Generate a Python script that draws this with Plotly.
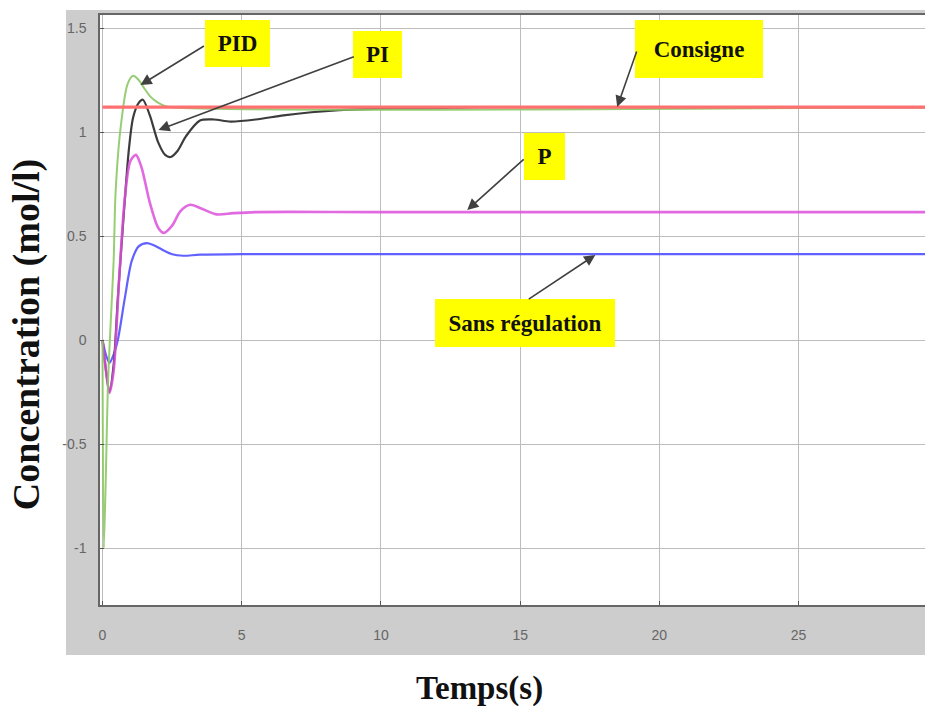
import plotly.graph_objects as go

# ---- data (time in s, concentration in mol/l) ----
t_consigne = [0, 30]
c_consigne = [1.12, 1.12]

t_sans = [0, 0.12, 0.25, 0.4, 0.55, 0.8, 1.05, 1.3, 1.6, 1.9, 2.2, 2.5, 2.9, 3.5, 5, 10, 30]
c_sans = [0, -0.07, -0.11, -0.07, 0.0, 0.2, 0.38, 0.45, 0.466, 0.452, 0.43, 0.412, 0.405, 0.41, 0.413, 0.413, 0.413]

t_p = [0, 0.1, 0.25, 0.4, 0.6, 0.8, 1.0, 1.2, 1.4, 1.7, 2.0, 2.2, 2.5, 2.8, 3.15, 3.5, 4.1, 4.7, 5.5, 10, 30]
c_p = [0, -0.12, -0.255, -0.15, 0.3, 0.68, 0.86, 0.89, 0.83, 0.66, 0.54, 0.515, 0.55, 0.62, 0.65, 0.635, 0.604, 0.61, 0.615, 0.615, 0.615]

t_pi = [0, 0.1, 0.25, 0.4, 0.55, 0.75, 0.95, 1.1, 1.3, 1.45, 1.7, 2.0, 2.25, 2.45, 2.7, 3.0, 3.5, 4.0, 4.6, 5.5, 6.5, 7.5, 8.5, 9.5, 10.5, 12, 13.5, 30]
c_pi = [0, -0.12, -0.25, -0.12, 0.2, 0.58, 0.92, 1.07, 1.14, 1.155, 1.08, 0.95, 0.89, 0.88, 0.91, 0.98, 1.055, 1.06, 1.05, 1.06, 1.08, 1.095, 1.105, 1.11, 1.113, 1.115, 1.12, 1.12]

t_pid = [0, 0.05, 0.2, 0.3, 0.4, 0.47, 0.65, 0.9, 1.1, 1.3, 1.5, 1.72, 1.95, 2.15, 2.4, 30]
c_pid = [0, -1.0, -0.2, 0.1, 0.38, 0.71, 1.02, 1.23, 1.27, 1.25, 1.21, 1.17, 1.145, 1.13, 1.12, 1.12]

x_ticks = [0, 5, 10, 15, 20, 25]
y_ticks = [-1, -0.5, 0, 0.5, 1, 1.5]
x_title = "Temps(s)"
y_title = "Concentration (mol/l)"

labels = ["PID", "PI", "Consigne", "P", "Sans régulation"]

fig = go.Figure()

series = [
    (t_sans, c_sans, "rgba(80,80,255,0.9)", 2.2),
    (t_pi, c_pi, "rgba(50,50,50,0.95)", 2.2),
    (t_p, c_p, "rgba(220,80,220,0.85)", 2.6),
    (t_pid, c_pid, "rgba(140,200,100,0.9)", 2.0),
    (t_consigne, c_consigne, "#ff7070", 3.2),
]
for t, c, col, w in series:
    fig.add_trace(go.Scatter(x=t, y=c, mode="lines",
                             line=dict(color=col, width=w, shape="spline", smoothing=0.8),
                             showlegend=False, hoverinfo="skip"))

# background panel (MATLAB-like grey frame) and white plot area
fig.add_shape(type="rect", xref="paper", yref="paper",
              x0=-0.0412, x1=1.0, y0=-0.0847, y1=1.0085,
              fillcolor="#cdcdcd", line=dict(width=0), layer="below")
fig.add_shape(type="rect", xref="paper", yref="paper",
              x0=0, x1=1.0, y0=0, y1=1.0,
              fillcolor="white", line=dict(width=0), layer="below")

# yellow label boxes: (label, x center, y center, width px, height px)
boxes = [
    (labels[0], 4.864, 1.4255, 65, 47),
    (labels[1], 9.889, 1.3726, 49, 47),
    (labels[2], 21.43, 1.399, 128, 58),
    (labels[3], 15.883, 0.8822, 41, 47),
    (labels[4], 15.183, 0.0817, 180, 48),
]
annotations = []
for txt, xc, yc, w, h in boxes:
    annotations.append(dict(
        x=xc, y=yc, xref="x", yref="y", xanchor="center", yanchor="middle",
        text="<b>" + txt + "</b>",
        showarrow=False, width=w, height=h, bgcolor="#ffff00",
        borderpad=0, borderwidth=0, align="center", valign="middle",
        font=dict(family="Liberation Serif", size=23, color="#111")))

# arrows: (tip x, tip y, tail x, tail y)
arrows = [
    (1.364, 1.226, 3.697, 1.418),
    (2.01, 1.0096, 9.081, 1.365),
    (18.485, 1.12, 19.203, 1.394),
    (13.10, 0.625, 15.18, 0.875),
    (17.70, 0.409, 15.255, 0.192),
]
for xt, yt, xs, ys in arrows:
    annotations.append(dict(
        x=xt, y=yt, ax=xs, ay=ys, xref="x", yref="y", axref="x", ayref="y",
        text="", showarrow=True, arrowhead=2, arrowsize=1.4, arrowwidth=1.6,
        arrowcolor="#404040", standoff=0, startstandoff=0))

# axis titles
annotations.append(dict(x=0.4594, y=-0.1407, xref="paper", yref="paper",
                        xanchor="center", yanchor="middle",
                        text="<b>" + x_title + "</b>", showarrow=False,
                        font=dict(family="Liberation Serif", size=33, color="#111")))
annotations.append(dict(x=-0.0897, y=0.459, xref="paper", yref="paper",
                        xanchor="center", yanchor="middle",
                        text="<b>" + y_title + "</b>", showarrow=False, textangle=-90,
                        font=dict(family="Liberation Serif", size=38, color="#111")))

fig.update_layout(
    width=925, height=706, autosize=False,
    margin=dict(l=100, r=0, t=15, b=101),
    paper_bgcolor="white", plot_bgcolor="rgba(0,0,0,0)",
    annotations=annotations,
    xaxis=dict(range=[-0.09, 29.54], tickvals=x_ticks, ticktext=[str(v) for v in x_ticks],
               showgrid=True, gridcolor="#bdbdbd", gridwidth=1.4, zeroline=False,
               showline=True, linecolor="#666", linewidth=1.5, mirror=True,
               ticks="inside", ticklen=4, tickcolor="#555", ticklabelstandoff=16,
               tickfont=dict(family="Liberation Sans", size=14, color="#666")),
    yaxis=dict(range=[-1.274, 1.5625], tickvals=y_ticks,
               ticktext=["-1", "-0.5", "0", "0.5", "1", "1.5"],
               showgrid=True, gridcolor="#bdbdbd", gridwidth=1.4, zeroline=False,
               showline=True, linecolor="#666", linewidth=1.5,
               ticks="inside", ticklen=4, tickcolor="#555", ticklabelstandoff=9,
               tickfont=dict(family="Liberation Sans", size=14, color="#666")),
)

fig.write_html("out.html", config={"displayModeBar": False},
               post_script="document.body.style.margin='0px';")
